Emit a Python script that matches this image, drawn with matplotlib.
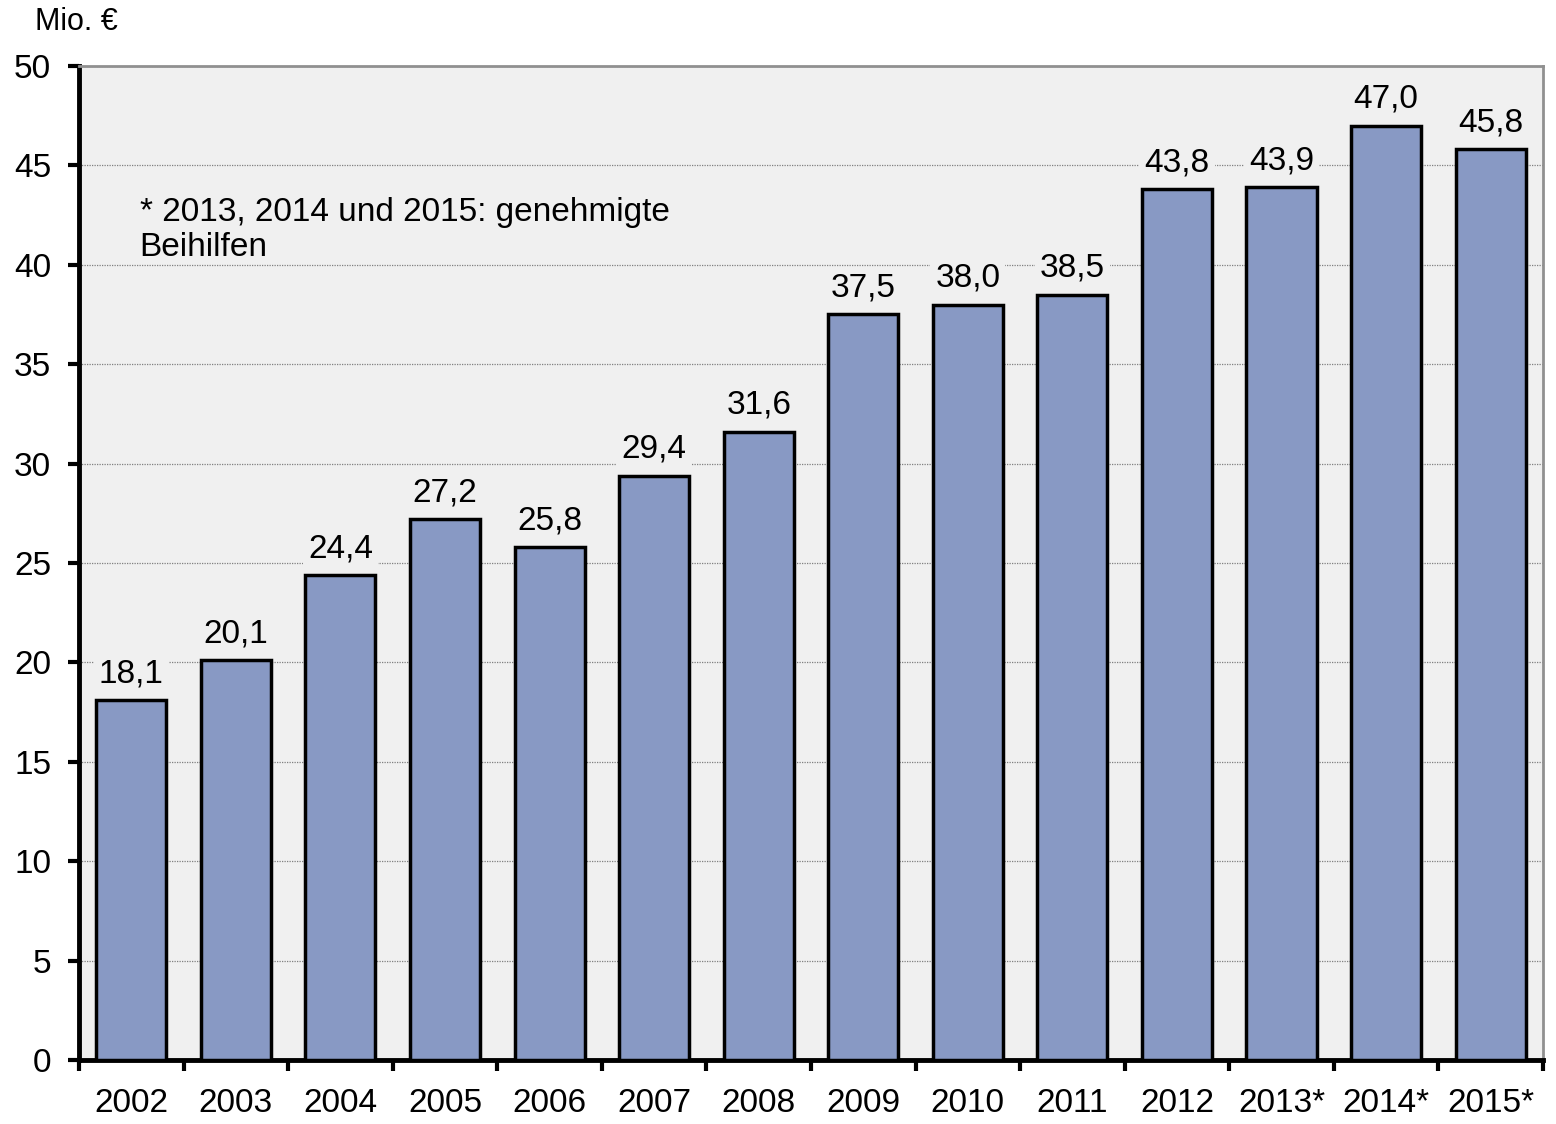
import matplotlib
matplotlib.use("Agg")
import matplotlib.pyplot as plt
import numpy as np

years = ["2002", "2003", "2004", "2005", "2006", "2007", "2008",
         "2009", "2010", "2011", "2012", "2013*", "2014*", "2015*"]
values = [18.1, 20.1, 24.4, 27.2, 25.8, 29.4, 31.6,
          37.5, 38.0, 38.5, 43.8, 43.9, 47.0, 45.8]
y_ticks = [0, 5, 10, 15, 20, 25, 30, 35, 40, 45, 50]

plt.rcParams['font.family'] = ['Liberation Sans', 'DejaVu Sans']

fig = plt.figure(figsize=(15.56, 11.24), dpi=100)
ax = fig.add_axes([0.0508, 0.0569, 0.9408, 0.8844])
ax.set_facecolor("#F0F0F0")

x = np.arange(len(years))
ax.bar(x, values, width=0.67, color="#8899C4", edgecolor="black",
       linewidth=2.5, zorder=3)

for xi, v in zip(x, values):
    ax.text(xi, v + 0.55, f"{v:.1f}".replace(".", ","), ha="center", va="bottom",
            fontsize=24, zorder=4,
            bbox=dict(boxstyle="square,pad=0.15", fc="#F0F0F0", ec="none"))

ax.set_xlim(-0.5, len(years) - 0.5)
ax.set_ylim(0, 50)
ax.set_yticks(y_ticks)
ax.set_yticklabels([str(t) for t in y_ticks], fontsize=24)
ax.set_xticks(x)
ax.set_xticklabels(years, fontsize=24)
ax.set_xticks(np.arange(-0.5, len(years), 1.0), minor=True)
ax.tick_params(axis="x", which="major", length=0, pad=20)
ax.tick_params(axis="x", which="minor", length=8, width=3, direction="out")
ax.tick_params(axis="y", length=8, width=3, direction="out", pad=12)

ax.yaxis.grid(True, linestyle=(0, (1, 1)), color="#808080", linewidth=0.9, zorder=0)
ax.set_axisbelow(True)

for s in ["top", "right"]:
    ax.spines[s].set_color("#909090")
    ax.spines[s].set_linewidth(2)
for s in ["left", "bottom"]:
    ax.spines[s].set_color("black")
    ax.spines[s].set_linewidth(3.5)

ax.text(0.08, 41.75, "* 2013, 2014 und 2015: genehmigte\nBeihilfen", fontsize=24,
        ha="left", va="center", linespacing=1.2, zorder=4)

fig.text(35 / 1556, 1 - 22 / 1124, "Mio. €", fontsize=22, ha="left", va="center")

fig.savefig("out.png", dpi=100)
